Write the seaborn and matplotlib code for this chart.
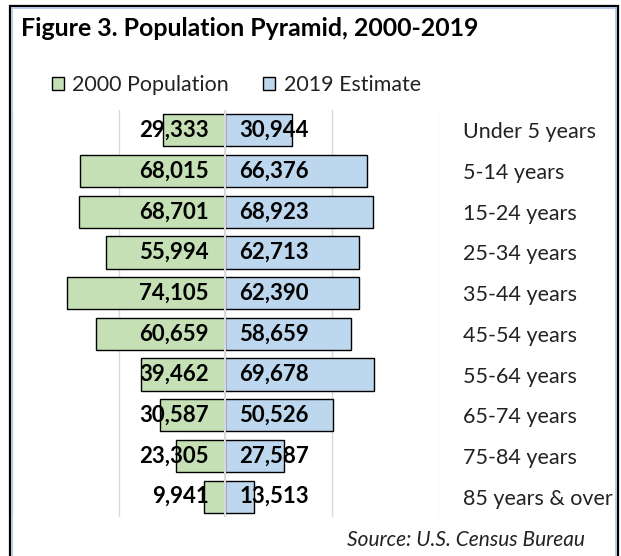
import matplotlib
matplotlib.use("Agg")
import matplotlib.pyplot as plt
from matplotlib.patches import Patch, Rectangle
import seaborn as sns
import numpy as np
import pandas as pd

categories = ["Under 5 years", "5-14 years", "15-24 years", "25-34 years", "35-44 years",
              "45-54 years", "55-64 years", "65-74 years", "75-84 years", "85 years & over"]
pop_2000 = [29333, 68015, 68701, 55994, 74105, 60659, 39462, 30587, 23305, 9941]
est_2019 = [30944, 66376, 68923, 62713, 62390, 58659, 69678, 50526, 27587, 13513]
series_names = ["2000 Population", "2019 Estimate"]
title = "Figure 3. Population Pyramid, 2000-2019"
source = "Source: U.S. Census Bureau"

GREEN = "#C5E0B4"
BLUE = "#BDD7EE"

sns.set_theme(style="white")
plt.rcParams["font.family"] = ["Lato", "DejaVu Sans"]

W, H = 621, 556
fig = plt.figure(figsize=(W / 100, H / 100), dpi=100)
fig.patch.set_facecolor("white")

ax = fig.add_axes([12 / W, 1 - 517 / H, 427 / W, 407 / H])

df = pd.DataFrame({"age": categories,
                   "p2000": -np.array(pop_2000),
                   "p2019": np.array(est_2019)})

sns.barplot(data=df, x="p2000", y="age", orient="h", color=GREEN, saturation=1,
            edgecolor="black", linewidth=1, width=0.79, ax=ax)
sns.barplot(data=df, x="p2019", y="age", orient="h", color=BLUE, saturation=1,
            edgecolor="black", linewidth=1, width=0.79, ax=ax)

ax.set_xlim(-100000, 100000)
ax.set_xticks([-100000, -50000, 0, 50000, 100000])
ax.set_xticklabels([])
ax.grid(axis="x", color="#D9D9D9", linewidth=1)
ax.grid(axis="y", visible=False)
ax.set_axisbelow(True)
ax.axvline(0, color="#D9D9D9", linewidth=1.5, zorder=5)
for s in ax.spines.values():
    s.set_visible(False)
ax.set_xlabel("")
ax.set_ylabel("")
ax.yaxis.tick_right()
ax.tick_params(axis="y", length=0, pad=24 * 0.72, labelsize=15.5, labelcolor="#222222")
ax.tick_params(axis="x", length=0)

for i, (a, b) in enumerate(zip(pop_2000, est_2019)):
    ax.annotate(f"{a:,}", xy=(0, i), xytext=(-17 * 0.72, 0), textcoords="offset points",
                ha="right", va="center", fontsize=16, fontweight="bold", color="black", zorder=6)
    ax.annotate(f"{b:,}", xy=(0, i), xytext=(14 * 0.72, 0), textcoords="offset points",
                ha="left", va="center", fontsize=16, fontweight="bold", color="black", zorder=6)

fig.text(21 / W, 1 - 29 / H, title, ha="left", va="center", fontsize=17.9,
         fontweight="bold", color="black")
fig.text(585 / W, 1 - 540 / H, source, ha="right", va="center", fontsize=15,
         fontstyle="italic", color="#222222")

handles = [Patch(facecolor=GREEN, edgecolor="black", linewidth=1, label=series_names[0]),
           Patch(facecolor=BLUE, edgecolor="black", linewidth=1, label=series_names[1])]
leg = fig.legend(handles=handles, loc="center left", bbox_to_anchor=(52 / W, 1 - 85 / H),
                 ncol=2, frameon=False, fontsize=15.4, handlelength=0.55, handleheight=0.55,
                 handletextpad=0.4, columnspacing=1.6, borderpad=0, borderaxespad=0)
for t in leg.get_texts():
    t.set_color("#222222")

# figure border
fig.add_artist(Rectangle((9.5 / W, -0.05), 608 / W, 1.05 - 5.5 / H, transform=fig.transFigure,
                         fill=False, edgecolor="black", linewidth=1.6, zorder=10))
fig.add_artist(Rectangle((11.5 / W, -0.05), 604 / W, 1.05 - 7.5 / H, transform=fig.transFigure,
                         fill=False, edgecolor="#A9C4E4", linewidth=1.2, zorder=10))

fig.savefig("out.png", dpi=100, facecolor="white")
